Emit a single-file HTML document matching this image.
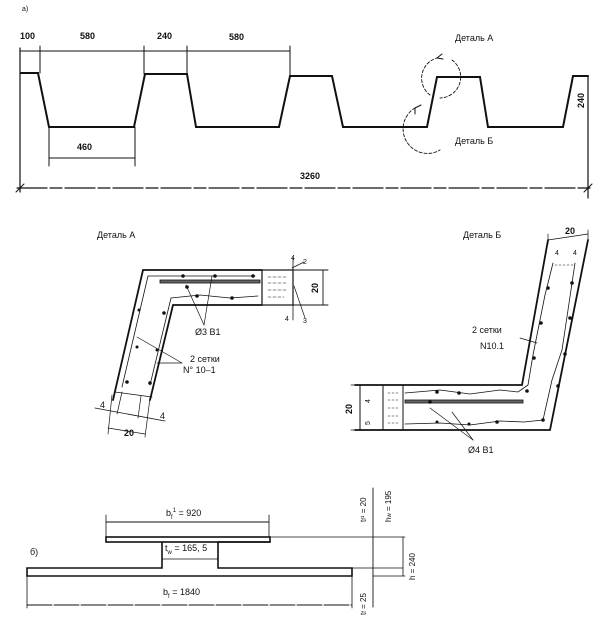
<!DOCTYPE html>
<html><head><meta charset="utf-8"><style>
html,body{margin:0;padding:0;background:#fff;}
svg{display:block;}
text{font-family:"Liberation Sans",sans-serif;font-size:9px;font-weight:bold;fill:#111;}
.t{font-weight:normal;}
</style></head><body>
<svg width="601" height="625" viewBox="0 0 601 625" xmlns="http://www.w3.org/2000/svg">
<g stroke="#111" fill="none" stroke-linecap="round">
<polyline stroke-width="2" points="21,73 38,73 49,127 134,127 145,74 187,74 196,127 279,127 290,76 332,76 343,127 427,127 437,77 480,77 488,127 563,127 573,76 588,76"/>
<line x1="20" y1="48" x2="20" y2="192" stroke-width="1.2"/>
<line x1="588" y1="76" x2="588" y2="198" stroke-width="1.2"/>
<line x1="20" y1="51" x2="290" y2="51" stroke-width="1"/>
<line x1="40" y1="46" x2="40" y2="73" stroke-width="1"/>
<line x1="144" y1="46" x2="144" y2="74" stroke-width="1"/>
<line x1="187" y1="46" x2="187" y2="74" stroke-width="1"/>
<line x1="290" y1="46" x2="290" y2="76" stroke-width="1"/>
<line x1="49" y1="127" x2="49" y2="166" stroke-width="1"/>
<line x1="135" y1="127" x2="135" y2="166" stroke-width="1"/>
<line x1="49" y1="158" x2="135" y2="158" stroke-width="1"/>
<line x1="17" y1="188" x2="590" y2="188" stroke-width="1.2" stroke-dasharray="30,3,12,3"/>
<line x1="16" y1="192" x2="24" y2="184" stroke-width="1"/>
<line x1="584" y1="192" x2="592" y2="184" stroke-width="1"/>
<path d="M430,95 A21,21 0 0,1 437,58" stroke-width="0.9" stroke-dasharray="3,2"/>
<path d="M452,60 A21,21 0 0,1 440,98" stroke-width="0.9" stroke-dasharray="3,2"/>
<path d="M437,58 l5,-4 M437,58 l6,1" stroke-width="1"/>
<path d="M415,108 A23,23 0 0,0 440,150" stroke-width="0.9" stroke-dasharray="3,2"/>
<path d="M415,108 l6,-3 M415,108 l0,6" stroke-width="1"/>

<!-- Detail A -->
<polyline stroke-width="1.8" points="113,400 143,270 262,270"/>
<polyline stroke-width="1.8" points="150,400 173,305 262,305"/>
<rect x="262" y="270" width="31" height="35" stroke-width="1.2"/>
<line x1="293" y1="270" x2="328" y2="270" stroke-width="0.9"/>
<line x1="293" y1="305" x2="328" y2="305" stroke-width="0.9"/>
<line x1="323" y1="270" x2="323" y2="305" stroke-width="0.9"/>
<line x1="293" y1="258" x2="293" y2="320" stroke-width="0.8"/>
<path d="M268,277 h18 M268,283 h20 M268,290 h18 M268,297 h16" stroke-width="0.6" stroke-dasharray="3,2"/>
<line x1="292" y1="268" x2="304" y2="262" stroke-width="0.7"/>
<line x1="294" y1="286" x2="305" y2="318" stroke-width="0.7"/>
<line x1="148" y1="276" x2="255" y2="276" stroke-width="0.8"/>
<polyline stroke-width="0.8" points="148,276 122,387"/>
<rect x="160" y="280" width="100" height="3" stroke-width="0.8" fill="#666"/>
<polyline stroke-width="0.8" points="171,298 200,295 230,298 258,296"/>
<polyline stroke-width="0.8" points="171,298 150,385"/>
<g fill="#111" stroke="none">
<circle cx="183" cy="276" r="1.8"/><circle cx="215" cy="276" r="1.8"/><circle cx="253" cy="276" r="1.8"/>
<circle cx="187" cy="287" r="1.8"/><circle cx="197" cy="296" r="1.8"/><circle cx="232" cy="298" r="1.8"/>
<circle cx="139" cy="310" r="1.5"/><circle cx="164" cy="313" r="1.8"/><circle cx="137" cy="347" r="1.5"/>
<circle cx="157" cy="350" r="1.5"/><circle cx="127" cy="382" r="1.8"/><circle cx="150" cy="383" r="1.8"/>
</g>
<line x1="186" y1="285" x2="204" y2="325" stroke-width="0.7"/>
<line x1="212" y1="276" x2="204" y2="325" stroke-width="0.7"/>
<line x1="137" y1="337" x2="182" y2="363" stroke-width="0.7"/>
<line x1="157" y1="363" x2="182" y2="363" stroke-width="0.7"/>
<line x1="95" y1="408" x2="165" y2="421" stroke-width="0.8"/>
<line x1="112" y1="395" x2="108" y2="434" stroke-width="0.7"/>
<line x1="150" y1="398" x2="145" y2="437" stroke-width="0.7"/>
<line x1="122" y1="392" x2="117" y2="414" stroke-width="0.7"/>
<line x1="141" y1="396" x2="138" y2="418" stroke-width="0.7"/>
<line x1="108" y1="428" x2="145" y2="434" stroke-width="0.7"/>
<line x1="115" y1="392" x2="152" y2="397" stroke-width="0.8"/>

<!-- Detail B -->
<polyline stroke-width="1.8" points="355,430 550,430 588,240"/>
<polyline stroke-width="1.8" points="355,385 522,385 548,240"/>
<line x1="360" y1="385" x2="360" y2="430" stroke-width="1"/>
<line x1="383" y1="385" x2="383" y2="430" stroke-width="1"/>
<line x1="403" y1="385" x2="403" y2="430" stroke-width="1"/>
<line x1="351" y1="385" x2="360" y2="385" stroke-width="0.8"/>
<line x1="351" y1="430" x2="360" y2="430" stroke-width="0.8"/>
<path d="M388,393 h10 M388,400 h10 M388,408 h10 M388,416 h10 M388,423 h10" stroke-width="0.6" stroke-dasharray="2,2"/>
<line x1="548" y1="240" x2="588" y2="234" stroke-width="0.8"/>
<line x1="548" y1="234" x2="548" y2="244" stroke-width="0.7"/>
<line x1="588" y1="230" x2="588" y2="240" stroke-width="0.7"/>
<path d="M555,265 h20" stroke-width="0.6" stroke-dasharray="2,2"/>
<polyline stroke-width="0.8" points="405,393 440,390 470,394 500,390 518,392 528,385 533,355 538,330 545,295 553,263"/>
<polyline stroke-width="0.8" points="405,424 440,423 470,425 500,421 524,422 543,420 552,380 562,350 568,310 575,263"/>
<rect x="405" y="400" width="118" height="3" stroke-width="0.8" fill="#666"/>
<g fill="#111" stroke="none">
<circle cx="437" cy="392" r="1.8"/><circle cx="459" cy="393" r="1.8"/><circle cx="527" cy="391" r="1.8"/>
<circle cx="437" cy="422" r="1.5"/><circle cx="469" cy="424" r="1.5"/><circle cx="497" cy="422" r="1.8"/>
<circle cx="543" cy="420" r="1.8"/><circle cx="534" cy="358" r="1.8"/><circle cx="541" cy="323" r="1.8"/>
<circle cx="548" cy="288" r="1.8"/><circle cx="558" cy="386" r="1.8"/><circle cx="565" cy="354" r="1.8"/>
<circle cx="570" cy="318" r="1.8"/><circle cx="572" cy="283" r="1.8"/><circle cx="430" cy="402" r="1.8"/>
</g>
<line x1="430" y1="408" x2="473" y2="440" stroke-width="0.7"/>
<line x1="452" y1="412" x2="473" y2="440" stroke-width="0.7"/>
<line x1="520" y1="338" x2="537" y2="343" stroke-width="0.7"/>

<!-- section b -->
<line x1="106" y1="522" x2="269" y2="522" stroke-width="0.9"/>
<line x1="106" y1="515" x2="106" y2="537" stroke-width="0.8"/>
<line x1="269" y1="515" x2="269" y2="537" stroke-width="0.8"/>
<rect x="106" y="537" width="164" height="5" stroke-width="1.6"/>
<line x1="270" y1="537" x2="373" y2="537" stroke-width="0.8"/>
<polyline stroke-width="1.6" points="270,542 218,542 218,568 352,568 352,576 27,576 27,568 162,568 162,542"/>
<line x1="162" y1="559" x2="218" y2="559" stroke-width="0.8"/>
<line x1="27" y1="576" x2="27" y2="608" stroke-width="0.8"/>
<line x1="352" y1="576" x2="352" y2="608" stroke-width="0.8"/>
<line x1="27" y1="605" x2="352" y2="605" stroke-width="0.9" stroke-dasharray="25,2"/>
<line x1="373" y1="488" x2="373" y2="607" stroke-width="0.9"/>
<line x1="352" y1="568" x2="403" y2="568" stroke-width="0.7"/>
<line x1="373" y1="576" x2="405" y2="576" stroke-width="0.7"/>
<line x1="373" y1="537" x2="405" y2="537" stroke-width="0.7"/>
<line x1="403" y1="537" x2="403" y2="576" stroke-width="0.8"/>
</g>
<text x="22" y="11" class="t" style="font-size:7px">а)</text>
<text x="20" y="39">100</text>
<text x="80" y="39">580</text>
<text x="157" y="39">240</text>
<text x="229" y="40">580</text>
<text x="77" y="150">460</text>
<text x="300" y="179">3260</text>
<text x="455" y="41" class="t">Деталь  А</text>
<text x="455" y="144" class="t">Деталь  Б</text>
<text x="0" y="0" transform="translate(584,108) rotate(-90)">240</text>

<text x="97" y="238" class="t">Деталь  А</text>
<text x="0" y="0" transform="translate(318,293) rotate(-90)">20</text>
<text x="195" y="335" class="t">Ø3 В1</text>
<text x="190" y="362" class="t">2  сетки</text>
<text x="183" y="373" class="t">N° 10–1</text>
<text x="100" y="408" class="t">4</text>
<text x="124" y="436">20</text>
<text x="160" y="419" class="t">4</text>
<text x="291" y="260" class="t" style="font-size:7px">4</text>
<text x="303" y="264" class="t" style="font-size:7px">2</text>
<text x="303" y="323" class="t" style="font-size:7px">3</text>
<text x="285" y="321" class="t" style="font-size:7px">4</text>

<text x="463" y="238" class="t">Деталь  Б</text>
<text x="565" y="234">20</text>
<text x="555" y="255" class="t" style="font-size:7px">4</text>
<text x="573" y="255" class="t" style="font-size:7px">4</text>
<text x="472" y="333" class="t">2 сетки</text>
<text x="480" y="349" class="t">N10.1</text>
<text x="0" y="0" transform="translate(352,414) rotate(-90)">20</text>
<text x="0" y="0" transform="translate(370,403) rotate(-90)" class="t" style="font-size:7px">4</text>
<text x="0" y="0" transform="translate(370,425) rotate(-90)" class="t" style="font-size:7px">5</text>
<text x="468" y="453" class="t">Ø4 В1</text>

<text x="30" y="555" class="t">б)</text>
<text x="166" y="516" class="t">b<tspan dy="3" style="font-size:6px">f</tspan><tspan dy="-7" style="font-size:6px">1</tspan><tspan dy="4"> = 920</tspan></text>
<text x="165" y="551" class="t">t<tspan dy="3" style="font-size:6px">w</tspan><tspan dy="-3"> = 165, 5</tspan></text>
<text x="163" y="595" class="t">b<tspan dy="3" style="font-size:6px">f</tspan><tspan dy="-3"> = 1840</tspan></text>
<text x="0" y="0" transform="translate(366,522) rotate(-90)" class="t" style="font-size:8px">t<tspan style="font-size:6px">f</tspan>¹ = 20</text>
<text x="0" y="0" transform="translate(391,522) rotate(-90)" class="t" style="font-size:8px">h<tspan style="font-size:6px">w</tspan> = 195</text>
<text x="0" y="0" transform="translate(415,580) rotate(-90)" class="t" style="font-size:8px">h = 240</text>
<text x="0" y="0" transform="translate(366,615) rotate(-90)" class="t" style="font-size:8px">t<tspan style="font-size:6px">f</tspan> = 25</text>
</svg>
</body></html>
